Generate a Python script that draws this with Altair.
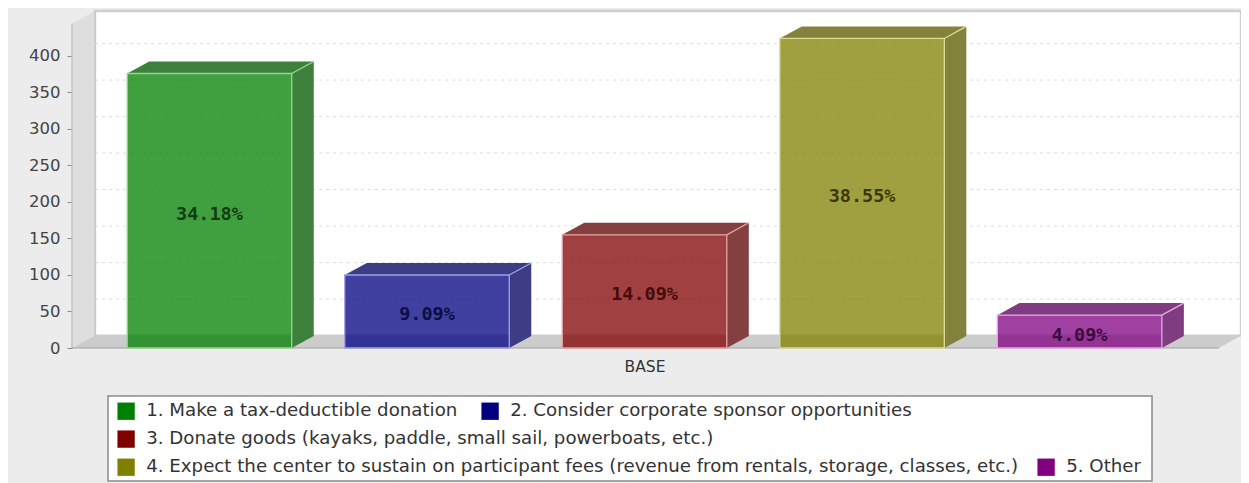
import altair as alt

# ---- data ----
series = ["1. Make a tax-deductible donation",
          "2. Consider corporate sponsor opportunities",
          "3. Donate goods (kayaks, paddle, small sail, powerboats, etc.)",
          "4. Expect the center to sustain on participant fees (revenue from rentals, storage, classes, etc.)",
          "5. Other"]
values = [376, 100, 155, 424, 45]
percent = ["34.18%", "9.09%", "14.09%", "38.55%", "4.09%"]
y_ticks = [0, 50, 100, 150, 200, 250, 300, 350, 400]
category = ["BASE"]

base_colors = ["#008000", "#000080", "#800000", "#808000", "#800080"]
side_colors = ["#3c803c", "#3d3d85", "#844040", "#82823c", "#803c80"]
edge_colors = ["#93d693", "#a0a0e6", "#e6a0a0", "#dcdc96", "#e6a6e6"]
text_colors = ["#123c12", "#0d0d48", "#480b0b", "#38380a", "#3d0a3d"]

FONT = "DejaVu Sans"
PX = 217.5            # pixels per category step
BAR_W = 164.5 / PX    # bar width, x units
DX = 22 / PX          # bar depth, x units
DY = 16.5             # bar depth, y units
WALL_DX = 22 / PX
WALL_DY = 17
X_MIN, X_MAX = -0.632, 4.742
Y_MAX = 461.6
W, H = 1169, 337

xs = alt.Scale(domain=[X_MIN, X_MAX], nice=False, zero=False)
ys = alt.Scale(domain=[0, Y_MAX], nice=False, zero=False)
x_axis = alt.Axis(
    values=[2], labelExpr=f"'{category[0]}'", ticks=False, domain=False, grid=False, title=None,
    labelFont=FONT, labelFontSize=15.5, labelColor="#333333", labelPadding=11)
y_axis = alt.Axis(
    values=y_ticks, ticks=True, tickSize=5, tickColor="#8c8c8c", domain=False, grid=False, title=None,
    labelFont=FONT, labelFontSize=16.5, labelColor="#444444", labelPadding=7)
X = alt.X("x:Q", scale=xs, axis=x_axis)
Y = alt.Y("y:Q", scale=ys, axis=y_axis)
X2 = alt.X2("x2:Q")
Y2 = alt.Y2("y2:Q")


def poly(xv, yv, y2v, color, **kw):
    rows = [{"x": a, "y": b, "y2": c} for a, b, c in zip(xv, yv, y2v)]
    return alt.Chart(alt.Data(values=rows)).mark_area(
        color=color, orient="vertical", **kw
    ).encode(x=X, y=Y, y2=Y2)


def rule(x, y, x2, y2, color, width=1.0, dash=None):
    kw = {"strokeDash": dash} if dash else {}
    return alt.Chart(alt.Data(values=[{"x": x, "y": y, "x2": x2, "y2": y2}])).mark_rule(
        color=color, strokeWidth=width, **kw
    ).encode(x=X, y=Y, x2=X2, y2=Y2)


layers = []

# back wall, left wall, floor
right_front = X_MAX - WALL_DX
left_back = X_MIN + 23 / PX
layers.append(alt.Chart(alt.Data(values=[{"x": left_back, "x2": X_MAX, "y": WALL_DY, "y2": Y_MAX}])).mark_rect(
    fill="#ffffff", stroke="#cfcfcf", strokeWidth=2.4).encode(x=X, x2=X2, y=Y, y2=Y2))
layers.append(poly([X_MIN, left_back], [0, WALL_DY], [Y_MAX - WALL_DY, Y_MAX], "#dedede"))
layers.append(poly([X_MIN, left_back, right_front, X_MAX],
                   [0, 0, 0, WALL_DY], [0, WALL_DY, WALL_DY, WALL_DY], "#cccccc"))
layers.append(rule(X_MIN, 0, X_MIN, Y_MAX - WALL_DY, "#bdbdbd", 1.2))
layers.append(rule(left_back, WALL_DY, left_back, Y_MAX, "#c4c4c4", 1.2))
for t in y_ticks[1:]:
    layers.append(rule(left_back, t + WALL_DY, X_MAX, t + WALL_DY, "#dcdcdc", 1, [3, 4]))
layers.append(rule(X_MIN, 0, right_front, 0, "#a0a0a0", 1.2))


def x0_of(i):
    return i - BAR_W / 2


# faces behind the translucent fronts
for i, v in enumerate(values):
    a = x0_of(i)
    b = a + BAR_W
    layers.append(poly([a, a + DX, b, b + DX], [v, v + DY, v + DY, v + DY], [v, v, v, v + DY], side_colors[i]))
    layers.append(poly([b, b + DX], [0, DY], [v, v + DY], side_colors[i]))

# fronts: three colour scales give the three legend rows
symbol = dict(symbolType="square", symbolSize=300, symbolOpacity=1, symbolStrokeWidth=0,
              labelFont=FONT, labelFontSize=18.2, labelColor="#333333", labelLimit=1000,
              labelOffset=11, title=None, orient="none", direction="horizontal",
              padding=0, offset=0)
rows = [([0, 1], 45, 391, 23), ([2], 45, 419, 18), ([3, 4], 45, 447, 18)]
for idx, lx, ly, gap in rows:
    data = [{"series": series[i], "x": x0_of(i), "x2": x0_of(i) + BAR_W, "y": 0, "y2": values[i]} for i in idx]
    layers.append(alt.Chart(alt.Data(values=data)).mark_rect(opacity=0.75).encode(
        x=X, x2=X2, y=Y, y2=Y2,
        color=alt.Color("series:N",
                        scale=alt.Scale(domain=[series[i] for i in idx], range=[base_colors[i] for i in idx]),
                        legend=alt.Legend(legendX=lx, legendY=ly, columns=len(idx), columnPadding=gap, **symbol)),
    ))

# outlines and labels
for i, v in enumerate(values):
    a = x0_of(i)
    b = a + BAR_W
    layers.append(alt.Chart(alt.Data(values=[{"x": a, "x2": b, "y": 0, "y2": v}])).mark_rect(
        fill=None, stroke=edge_colors[i], strokeWidth=1.3).encode(x=X, x2=X2, y=Y, y2=Y2))
    layers.append(rule(b, v, b + DX, v + DY, edge_colors[i], 1.3))
    layers.append(alt.Chart(alt.Data(values=[{"x": i, "y": v / 2, "t": percent[i]}])).mark_text(
        font="DejaVu Sans Mono", fontWeight="bold", fontSize=18.5, color=text_colors[i],
        baseline="middle", align="center", dy=3).encode(x=X, y=Y, text="t:N"))

# legend frame (drawn below the legends, which sit on top of the marks)
frame = alt.Chart(alt.Data(values=[{"k": 0}])).mark_rect(
    fill="#ffffff", stroke="#8a8a8a", strokeWidth=1.5
).encode(x=alt.value(36), x2=alt.value(1080), y=alt.value(385), y2=alt.value(470))
layers.insert(0, frame)

chart = alt.layer(*layers).resolve_scale(color="independent").properties(
    width=W, height=H, background="#ececec",
    padding={"left": 64, "top": 3, "right": 0, "bottom": 135},
    autosize=alt.AutoSizeParams(type="none"),
).configure_view(stroke=None)

chart.save("out.html", embed_options={"renderer": "svg", "actions": False})
